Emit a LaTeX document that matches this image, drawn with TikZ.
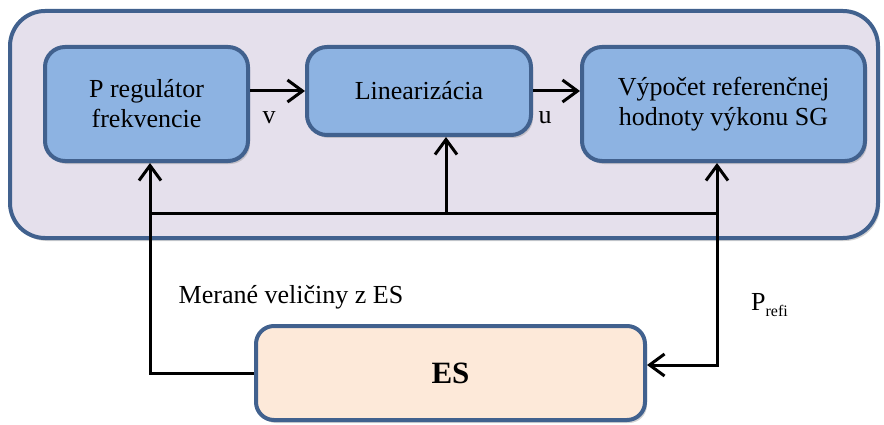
\documentclass[tikz,border=0pt]{standalone}
\usepackage{fontspec}
\setmainfont{Liberation Serif}
\usepackage{tikz}
\usetikzlibrary{calc}
\usetikzlibrary{arrows.meta}
\usetikzlibrary{shadows}
\usetikzlibrary{positioning}
\definecolor{ramcek}{HTML}{41618E}
\definecolor{pozadie}{HTML}{E5E0EC}
\definecolor{modra}{HTML}{8DB3E2}
\definecolor{marhula}{HTML}{FDE9D9}
\tikzset{tien/.style={drop shadow={shadow xshift=2pt, shadow yshift=-3pt, opacity=.35}}}
\tikzset{blok/.style={draw=ramcek, line width=4pt, fill=modra, rounded corners=20pt, align=center, inner sep=0pt, font=\fontsize{26}{30}\selectfont, tien}}
\tikzset{sipka/.style={line width=3pt, -{Straight Barb[length=15pt,width=22pt]}}}
\tikzset{ciara/.style={line width=3pt}}
\tikzset{popis/.style={font=\fontsize{26}{30}\selectfont, inner sep=1pt}}

\begin{document}
\begin{tikzpicture}[x=1pt, y=1pt]
\useasboundingbox (0,0) rectangle (884,424);
% vonkajsi ramcek regulatora
\draw[draw=ramcek, line width=4pt, fill=pozadie, rounded corners=35pt, tien] (10,413) rectangle (878,186);
% bloky
\node[blok, minimum width=203, minimum height=114] (preg) at (146.5,320) {P regulátor\\frekvencie};
\node[blok, minimum width=224, minimum height=88] (lin) at (419,333) {Linearizácia};
\node[blok, minimum width=283, minimum height=114] (vyp) at (723.5,320) {Výpočet referenčnej\\hodnoty výkonu SG};
\node[blok, fill=marhula, rounded corners=18pt, minimum width=389, minimum height=94, font=\fontsize{31}{31}\selectfont\bfseries] (es) at (450.5,51) {ES};
% zbernica meranych velicin
\coordinate (busL) at (150,211);
\coordinate (busM) at (446,211);
\coordinate (busR) at (717,211);
\draw[sipka] (preg.east |- lin.west) -- (lin.west);
\draw[sipka] (lin.east) -- (lin.east -| vyp.west);
\draw[ciara] (es.west) -| (busL) -- (busR);
\draw[sipka] (busL) -- (busL |- preg.south);
\draw[sipka] (busM) -- (busM |- lin.south);
\draw[sipka] (busR) -- (busR |- vyp.south);
\draw[sipka] (busR) |- ([yshift=8pt]es.east);
% popisy
\node[popis] (v) at (269,306) {v};
\node[popis] (u) at (545,306) {u};
\node[popis] (mer) at (291,127) {Merané veličiny z ES};
\node[popis, anchor=west] (pref) at (750,119) {P\raisebox{-6pt}{\fontsize{16}{16}\selectfont refi}};
\end{tikzpicture}
\end{document}
